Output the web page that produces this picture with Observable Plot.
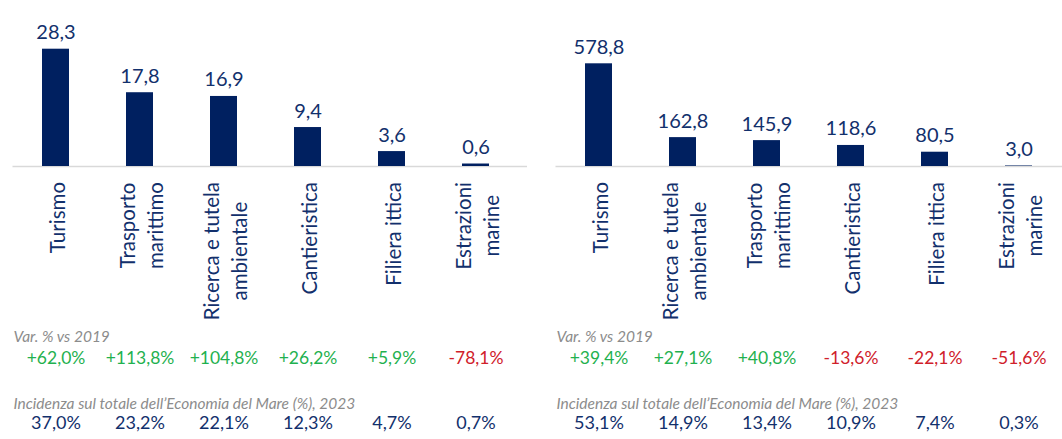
<!DOCTYPE html>
<html>
<head>
<meta charset="utf-8">
<script src="https://cdn.jsdelivr.net/npm/d3@7"></script>
<script src="https://cdn.jsdelivr.net/npm/@observablehq/plot@0.6"></script>
<style>
  html, body { margin: 0; padding: 0; background: #fff; }
  #wrap { display: flex; width: 1062px; height: 439px; overflow: hidden; }
  #wrap svg { overflow: visible; }
</style>
</head>
<body>
<div id="wrap"></div>
<script>
// ---- Data (left panel) ----
const leftCategories = ["Turismo", "Trasporto\nmarittimo", "Ricerca e tutela\nambientale", "Cantieristica", "Filiera ittica", "Estrazioni\nmarine"];
const leftValues = [28.3, 17.8, 16.9, 9.4, 3.6, 0.6];
const leftVar = [62.0, 113.8, 104.8, 26.2, 5.9, -78.1];
const leftShare = [37.0, 23.2, 22.1, 12.3, 4.7, 0.7];

// ---- Data (right panel) ----
const rightCategories = ["Turismo", "Ricerca e tutela\nambientale", "Trasporto\nmarittimo", "Cantieristica", "Filiera ittica", "Estrazioni\nmarine"];
const rightValues = [578.8, 162.8, 145.9, 118.6, 80.5, 3.0];
const rightVar = [39.4, 27.1, 40.8, -13.6, -22.1, -51.6];
const rightShare = [53.1, 14.9, 13.4, 10.9, 7.4, 0.3];

// ---- Row titles ----
const varTitle = "Var. % vs 2019";
const shareTitle = "Incidenza sul totale dell’Economia del Mare (%), 2023";

const NAVY_BAR = "#002060";
const NAVY_TXT = "#12306c";
const GREEN = "#1fb14f";
const RED = "#d0202a";
const GREY = "#8c8c8c";
const FONT = "Lato";
const LABEL_SIZE = 20.5;

const fmt1 = v => v.toFixed(1).replace(".", ",");
const fmtVar = v => (v > 0 ? "+" : "") + fmt1(v) + "%";
const fmtPct = v => fmt1(v) + "%";

const canvas = document.createElement("canvas");
const ctx = canvas.getContext("2d");
function textWidth(s, size) {
  ctx.font = `${size}px ${FONT}`;
  return ctx.measureText(s).width;
}

function panel(cats, values, vars, shares, opts) {
  const data = cats.map((c, i) => ({cat: c, value: values[i], v: vars[i], share: shares[i]}));
  const labelMarks = data.map(d => {
    const maxW = d3.max(d.cat.split("\n"), s => textWidth(s, LABEL_SIZE));
    return Plot.text([d], {
      x: "cat", text: "cat", frameAnchor: "bottom",
      rotate: -90, textAnchor: "middle", lineAnchor: "middle",
      lineHeight: 1.38, dy: 15.5 + maxW / 2,
      fill: NAVY_TXT, fontSize: LABEL_SIZE
    });
  });
  return Plot.plot({
    width: 531, height: 439,
    marginTop: opts.marginTop, marginBottom: 273,
    marginLeft: opts.marginLeft, marginRight: opts.marginRight,
    style: {fontFamily: FONT, overflow: "visible"},
    x: {domain: cats, paddingInner: 0.684, paddingOuter: opts.paddingOuter, align: opts.align, axis: null},
    y: {domain: [0, d3.max(values)], axis: null},
    marks: [
      Plot.ruleY([0], {stroke: "#d9d9d9", strokeWidth: 1.5}),
      Plot.barY(data, {x: "cat", y: "value", fill: NAVY_BAR}),
      Plot.text(data, {x: "cat", y: "value", text: d => fmt1(d.value), lineAnchor: "bottom", dy: -10, fill: NAVY_TXT, fontSize: 20}),
      ...labelMarks,
      Plot.text([varTitle], {frameAnchor: "bottom-left", textAnchor: "start", lineAnchor: "bottom", dy: 175.5, dx: 0.5, fill: GREY, fontSize: 15.5, fontStyle: "italic"}),
      Plot.text(data, {x: "cat", text: d => fmtVar(d.v), frameAnchor: "bottom", lineAnchor: "bottom", dy: 197, fill: d => d.v >= 0 ? GREEN : RED, fontSize: 17.5}),
      Plot.text([shareTitle], {frameAnchor: "bottom-left", textAnchor: "start", lineAnchor: "bottom", dy: 242, dx: 0.5, fill: GREY, fontSize: 15.5, fontStyle: "italic"}),
      Plot.text(data, {x: "cat", text: d => fmtPct(d.share), frameAnchor: "bottom", lineAnchor: "bottom", dy: 262, fill: NAVY_TXT, fontSize: 18})
    ]
  });
}

(async () => {
  try { await document.fonts.load(`${LABEL_SIZE}px ${FONT}`); } catch (e) {}
  const wrap = document.getElementById("wrap");
  wrap.append(panel(leftCategories, leftValues, leftVar, leftShare,
    {marginTop: 48.7, marginLeft: 12.5, marginRight: 4, paddingOuter: 0.388, align: 0.441}));
  wrap.append(panel(rightCategories, rightValues, rightVar, rightShare,
    {marginTop: 63.3, marginLeft: 24.5, marginRight: 0, paddingOuter: 0.342, align: 0.5}));
})();
</script>
</body>
</html>
